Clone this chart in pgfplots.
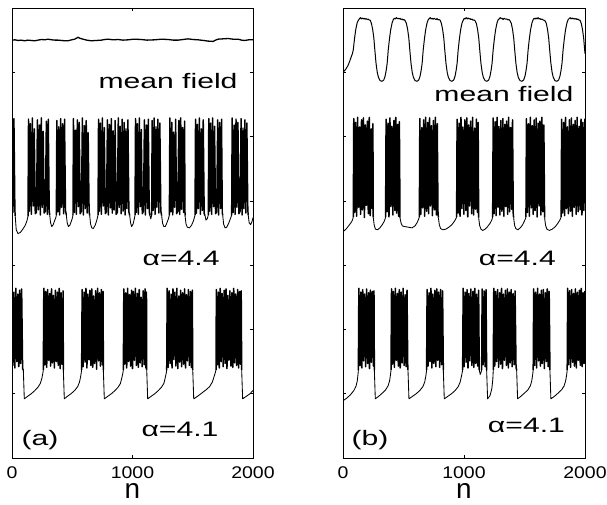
\documentclass[border=0pt]{standalone}
\usepackage{fontspec}
\setmainfont{Liberation Sans}
\usepackage{graphicx}
\usepackage{pgfplots}
\pgfplotsset{compat=1.18}
\tikzset{lbl/.style={anchor=base, inner sep=0pt, font=\fontsize{21}{21}\selectfont},
 sp/.style={black, line width=0.85bp, line join=round, mark=none},
 bu/.style={sp, line width=1.5bp}}
\pgfplotsset{myax/.style={scale only axis, height=450bp, xmin=0, xmax=2000, ymin=0, ymax=7, unbounded coords=jump,
 xtick={0,1000,2000}, xticklabels={\scalebox{1.15}[1]{0},\scalebox{1.15}[1]{1000},\scalebox{1.15}[1]{2000}},
 ytick={1,2,3,4,5,6}, yticklabels={}, tick align=inside, major tick length=3bp, tick pos=both, xticklabel pos=lower,
 xticklabel style={font=\fontsize{17}{17}\selectfont, inner sep=0pt, anchor=north, yshift=-8bp},
 axis line style={line width=0.8bp}, every tick/.style={black, line width=0.6bp},
 xlabel={n}, xlabel style={font=\fontsize{28}{28}\selectfont, inner sep=0pt, at={(axis description cs:0.5,0)}, anchor=north, yshift=-25bp}}}
\begin{document}
\begin{tikzpicture}
\path[use as bounding box] (0bp,0bp) rectangle (607bp,505bp);
% ---------------- panel (a)
\begin{axis}[myax, at={(12bp,47bp)}, anchor=south west, width=241bp]
\addplot[sp, line width=1.3bp] coordinates {(0,6.50)(25,6.505)(50,6.495)(75,6.50)(105,6.49)(130,6.50)(160,6.495)(188,6.49)(215,6.50)(244,6.51)(270,6.505)(299,6.515)(330,6.505)(360,6.50)(382,6.50)(410,6.495)(440,6.49)(465,6.49)(495,6.505)(520,6.515)(535,6.53)(548,6.545)(562,6.53)(589,6.515)(620,6.50)(658,6.49)(700,6.495)(741,6.50)(770,6.51)(797,6.515)(840,6.505)(880,6.51)(920,6.50)(963,6.505)(1010,6.515)(1073,6.51)(1120,6.50)(1184,6.505)(1240,6.515)(1295,6.51)(1340,6.50)(1378,6.50)(1420,6.51)(1461,6.52)(1500,6.51)(1544,6.505)(1590,6.495)(1627,6.485)(1669,6.48)(1690,6.50)(1710,6.515)(1750,6.52)(1793,6.525)(1835,6.515)(1876,6.515)(1905,6.50)(1931,6.495)(1965,6.505)(2000,6.505)};
% alpha=4.4 quiet parts
\addplot[sp] coordinates {(27,3.76)(35,3.55)(50,3.49)(70,3.51)(90,3.56)(110,3.62)(124,3.69)(133,3.76)(133,nan)
(313,3.78)(320,3.66)(330,3.60)(342,3.63)(355,3.70)(364,3.74)(368,3.78)(368,nan)
(451,3.78)(458,3.66)(468,3.60)(480,3.62)(494,3.69)(502,3.74)(506,3.78)(506,nan)
(645,3.77)(652,3.64)(662,3.58)(675,3.57)(690,3.62)(704,3.70)(714,3.78)(714,nan)
(977,3.77)(984,3.66)(993,3.60)(1005,3.64)(1015,3.72)(1021,3.78)(1021,nan)
(1145,3.77)(1152,3.72)(1159,3.78)(1159,nan)
(1242,3.77)(1250,3.65)(1260,3.60)(1272,3.60)(1286,3.66)(1298,3.72)(1306,3.78)(1306,nan)
(1436,3.77)(1444,3.64)(1455,3.59)(1472,3.58)(1490,3.62)(1506,3.69)(1519,3.78)(1519,nan)
(1602,3.77)(1610,3.70)(1620,3.72)(1629,3.78)(1629,nan)
(1749,3.77)(1756,3.64)(1768,3.58)(1782,3.59)(1798,3.65)(1812,3.72)(1823,3.78)(1823,nan)
(1961,3.77)(1968,3.66)(1980,3.63)(1992,3.68)(2000,3.74)};
% alpha=4.4 bursts
\addplot[bu, line width=1.45bp] coordinates {(0,5.22)(8,3.82)(16,5.28)(24,3.85)(27,3.76)(27,nan)
(133,3.76)(137,5.27)(145,3.84)(153,5.20)(161,3.79)(169,5.29)(177,3.92)(185,5.12)(193,3.80)(203,3.82)(211,5.26)(219,3.86)(227,5.18)(235,3.78)(243,5.29)(251,3.90)(259,5.08)(267,3.81)(277,3.84)(285,5.24)(293,3.79)(301,5.27)(309,3.85)(313,3.78)(313,nan)
(368,3.78)(372,5.25)(380,3.83)(388,5.15)(396,3.78)(404,5.28)(412,3.90)(420,5.20)(428,3.80)(436,5.27)(444,3.85)(451,3.78)(451,nan)
(506,3.78)(510,5.28)(518,3.82)(526,5.10)(534,3.79)(542,5.26)(550,3.91)(558,5.22)(566,3.80)(576,3.84)(584,5.29)(592,3.78)(600,5.17)(608,3.88)(616,5.25)(624,3.81)(632,5.06)(640,3.83)(645,3.77)(645,nan)
(714,3.78)(718,5.27)(726,3.84)(734,5.21)(742,3.79)(750,5.29)(758,3.92)(766,5.14)(774,3.80)(784,3.83)(792,5.26)(800,3.78)(808,5.19)(816,3.89)(824,5.28)(832,3.81)(840,5.09)(848,3.86)(856,5.25)(864,3.79)(874,3.82)(882,5.29)(890,3.90)(898,5.16)(906,3.80)(914,5.27)(922,3.84)(930,5.22)(938,3.78)(946,5.12)(954,3.88)(962,5.26)(970,3.83)(977,3.77)(977,nan)
(1021,3.78)(1025,5.28)(1033,3.82)(1041,5.20)(1049,3.79)(1057,5.29)(1065,3.91)(1073,5.11)(1081,3.80)(1091,3.84)(1099,5.26)(1107,3.78)(1115,5.18)(1123,3.88)(1131,5.27)(1139,3.83)(1145,3.77)(1145,nan)
(1159,3.78)(1163,5.25)(1171,3.85)(1179,5.29)(1187,3.79)(1195,5.15)(1203,3.90)(1211,5.27)(1219,3.81)(1227,5.21)(1235,3.84)(1242,3.77)(1242,nan)
(1306,3.78)(1310,5.29)(1318,3.83)(1326,5.22)(1334,3.78)(1342,5.07)(1350,3.90)(1358,5.27)(1366,3.80)(1376,3.84)(1384,5.25)(1392,3.79)(1400,5.29)(1408,3.87)(1416,5.14)(1424,3.82)(1432,5.24)(1436,3.77)(1436,nan)
(1519,3.78)(1523,5.27)(1531,3.81)(1539,5.19)(1547,3.88)(1555,5.29)(1563,3.79)(1571,5.12)(1579,3.85)(1587,5.26)(1595,3.80)(1602,3.77)(1602,nan)
(1629,3.78)(1633,5.28)(1641,3.84)(1649,5.21)(1657,3.79)(1665,5.29)(1673,3.91)(1681,5.16)(1689,3.80)(1699,3.83)(1707,5.26)(1715,3.78)(1723,5.22)(1731,3.88)(1739,5.27)(1745,3.82)(1749,3.77)(1749,nan)
(1823,3.78)(1827,5.29)(1835,3.82)(1843,5.18)(1851,3.79)(1859,5.27)(1867,3.90)(1875,5.22)(1883,3.80)(1893,3.84)(1901,5.28)(1909,3.78)(1917,5.13)(1925,3.88)(1933,5.26)(1941,3.81)(1949,5.21)(1957,3.85)(1961,3.77)};
% alpha=4.1 quiet parts
\addplot[sp] coordinates {(94,1.37)(102,0.92)(130,0.96)(160,1.00)(190,1.05)(215,1.10)(235,1.16)(248,1.24)(256,1.32)(260,1.37)(260,nan)
(426,1.37)(434,0.92)(460,0.96)(490,1.00)(520,1.05)(545,1.11)(560,1.18)(570,1.27)(578,1.37)(578,nan)
(758,1.37)(766,0.92)(795,0.96)(825,1.00)(855,1.05)(880,1.10)(900,1.16)(912,1.25)(920,1.32)(924,1.37)(924,nan)
(1118,1.37)(1126,0.92)(1155,0.96)(1185,1.00)(1215,1.05)(1240,1.10)(1260,1.16)(1272,1.25)(1280,1.32)(1284,1.37)(1284,nan)
(1500,1.37)(1508,0.92)(1540,0.96)(1575,1.01)(1610,1.06)(1640,1.11)(1662,1.18)(1676,1.26)(1686,1.32)(1693,1.37)(1693,nan)
(1906,1.37)(1914,0.92)(1945,0.96)(1975,1.00)(2000,1.05)};
% alpha=4.1 bursts
\addplot[bu] coordinates {(0,2.60)(8,1.44)(16,2.58)(24,1.40)(32,2.64)(40,1.50)(48,2.55)(56,1.42)(64,2.61)(72,1.47)(80,2.63)(88,1.39)(94,1.37)(94,nan)
(260,1.37)(264,2.64)(272,1.45)(280,2.59)(288,1.41)(296,2.62)(304,1.52)(312,2.56)(320,1.43)(328,2.63)(336,1.48)(344,2.53)(352,1.40)(360,2.61)(368,1.50)(376,2.58)(384,1.44)(392,2.64)(400,1.39)(408,2.57)(416,1.46)(424,2.60)(426,1.37)(426,nan)
(578,1.37)(582,2.62)(590,1.42)(598,2.58)(606,1.49)(614,2.64)(622,1.40)(630,2.55)(638,1.53)(646,2.61)(654,1.44)(662,2.63)(670,1.41)(678,2.52)(686,1.47)(694,2.60)(702,1.38)(710,2.64)(718,1.51)(726,2.57)(734,1.43)(742,2.62)(750,1.45)(756,2.59)(758,1.37)(758,nan)
(924,1.37)(928,2.63)(936,1.46)(944,2.57)(952,1.40)(960,2.64)(968,1.50)(976,2.54)(984,1.43)(992,2.61)(1000,1.39)(1008,2.59)(1016,1.52)(1024,2.64)(1032,1.44)(1040,2.56)(1048,1.41)(1056,2.62)(1064,1.48)(1072,2.50)(1080,1.42)(1088,2.60)(1096,1.45)(1104,2.63)(1112,1.40)(1116,2.58)(1118,1.37)(1118,nan)
(1284,1.37)(1288,2.64)(1296,1.41)(1304,2.60)(1312,1.47)(1320,2.55)(1328,1.40)(1336,2.63)(1344,1.53)(1352,2.58)(1360,1.43)(1368,2.64)(1376,1.39)(1384,2.52)(1392,1.49)(1400,2.61)(1408,1.42)(1416,2.57)(1424,1.46)(1432,2.63)(1440,1.40)(1448,2.54)(1456,1.51)(1464,2.62)(1472,1.44)(1480,2.59)(1488,1.41)(1496,2.61)(1500,1.37)(1500,nan)
(1693,1.37)(1696,2.62)(1704,1.45)(1712,2.58)(1720,1.40)(1728,2.64)(1736,1.50)(1744,2.56)(1752,1.42)(1760,2.61)(1768,1.47)(1776,2.63)(1784,1.39)(1792,2.53)(1800,1.52)(1808,2.60)(1816,1.43)(1824,2.57)(1832,1.41)(1840,2.64)(1848,1.48)(1856,2.55)(1864,1.44)(1872,2.62)(1880,1.40)(1888,2.59)(1896,1.46)(1902,2.60)(1906,1.37)};
\node[lbl] at (axis cs:1295,5.75) {\scalebox{1.44}[1]{mean field}};
\node[lbl] at (axis cs:1403,3.00) {\scalebox{1.44}[1]{α=4.4}};
\node[lbl] at (axis cs:1394,0.33) {\scalebox{1.44}[1]{α=4.1}};
\node[lbl] at (axis cs:232,0.20) {\scalebox{1.44}[1]{(a)}};
\end{axis}
% ---------------- panel (b)
\begin{axis}[myax, at={(343bp,47bp)}, anchor=south west, width=242bp]
\addplot[sp, line width=1.0bp] coordinates {(0,6.00)(20,6.04)(40,6.10)(55,6.17)(68,6.24)(78,6.29)
(85,6.35)(95,6.52)(105,6.66)(117,6.77)(127,6.81)(135,6.83)(143,6.85)(151,6.83)(159,6.845)(167,6.83)(175,6.84)(183,6.825)(191,6.835)(199,6.82)(207,6.83)(215,6.815)(225,6.81)(235,6.76)(245,6.67)(255,6.53)(263,6.35)(273,6.14)(283,6.00)(293,5.92)(307,5.87)(323,5.86)(337,5.88)(348,5.94)(357,6.03)(365,6.14)
(374,6.35)(384,6.52)(394,6.66)(406,6.77)(416,6.82)(424,6.84)(432,6.83)(440,6.85)(448,6.835)(456,6.84)(464,6.83)(472,6.84)(480,6.82)(488,6.83)(496,6.815)(504,6.82)(514,6.80)(524,6.76)(534,6.67)(544,6.53)(552,6.35)(562,6.14)(572,6.00)(582,5.92)(596,5.87)(612,5.86)(626,5.88)(637,5.94)(646,6.03)(654,6.14)
(663,6.35)(673,6.52)(683,6.66)(695,6.77)(705,6.82)(713,6.835)(721,6.85)(729,6.83)(737,6.84)(745,6.825)(753,6.84)(761,6.83)(769,6.82)(777,6.835)(785,6.815)(793,6.82)(803,6.81)(813,6.76)(823,6.67)(833,6.53)(841,6.35)(851,6.14)(861,6.00)(871,5.92)(885,5.87)(901,5.86)(915,5.88)(926,5.94)(935,6.03)(943,6.14)
(952,6.35)(962,6.52)(972,6.66)(984,6.77)(994,6.81)(1002,6.84)(1010,6.83)(1018,6.85)(1026,6.83)(1034,6.845)(1042,6.83)(1050,6.835)(1058,6.82)(1066,6.83)(1074,6.81)(1082,6.815)(1092,6.80)(1102,6.76)(1112,6.67)(1122,6.53)(1130,6.35)(1140,6.14)(1150,6.00)(1160,5.92)(1174,5.87)(1190,5.86)(1204,5.88)(1215,5.94)(1224,6.03)(1232,6.14)
(1241,6.35)(1251,6.52)(1261,6.66)(1273,6.77)(1283,6.82)(1291,6.83)(1299,6.85)(1307,6.835)(1315,6.84)(1323,6.82)(1331,6.84)(1339,6.83)(1347,6.825)(1355,6.83)(1363,6.815)(1371,6.82)(1381,6.80)(1391,6.76)(1401,6.67)(1411,6.53)(1419,6.35)(1429,6.14)(1439,6.00)(1449,5.92)(1463,5.87)(1479,5.86)(1493,5.88)(1504,5.94)(1513,6.03)(1521,6.14)
(1530,6.35)(1540,6.52)(1550,6.66)(1562,6.77)(1572,6.82)(1580,6.84)(1588,6.83)(1596,6.845)(1604,6.83)(1612,6.85)(1620,6.83)(1628,6.835)(1636,6.82)(1644,6.83)(1652,6.815)(1660,6.81)(1670,6.80)(1680,6.76)(1690,6.67)(1700,6.53)(1708,6.35)(1718,6.14)(1728,6.00)(1738,5.92)(1752,5.87)(1768,5.86)(1782,5.88)(1793,5.94)(1802,6.03)(1810,6.14)
(1819,6.35)(1829,6.52)(1839,6.66)(1851,6.77)(1861,6.82)(1869,6.835)(1877,6.85)(1885,6.83)(1893,6.845)(1901,6.83)(1909,6.84)(1917,6.825)(1925,6.835)(1933,6.82)(1941,6.83)(1949,6.815)(1959,6.81)(1969,6.76)(1979,6.67)(1989,6.53)(1997,6.35)(2000,6.29)};
% alpha=4.4 quiet parts
\addplot[sp] coordinates {(0,3.52)(25,3.56)(50,3.62)(70,3.67)(80,3.71)(85,3.75)(85,nan)
(250,3.74)(258,3.62)(268,3.56)(285,3.55)(305,3.58)(325,3.63)(340,3.68)(348,3.72)(352,3.75)(352,nan)
(471,3.74)(479,3.66)(490,3.61)(510,3.60)(540,3.59)(570,3.58)(595,3.61)(612,3.66)(624,3.71)(631,3.75)(631,nan)
(788,3.74)(796,3.63)(806,3.57)(825,3.55)(850,3.56)(875,3.59)(900,3.63)(920,3.68)(932,3.72)(939,3.75)(939,nan)
(1121,3.74)(1129,3.62)(1140,3.56)(1155,3.54)(1175,3.56)(1195,3.60)(1215,3.65)(1229,3.70)(1237,3.75)(1237,nan)
(1410,3.74)(1418,3.62)(1428,3.57)(1445,3.55)(1465,3.58)(1485,3.63)(1500,3.69)(1508,3.72)(1512,3.75)(1512,nan)
(1666,3.74)(1674,3.62)(1685,3.56)(1705,3.54)(1730,3.56)(1755,3.60)(1775,3.65)(1792,3.70)(1803,3.75)};
% alpha=4.4 bursts
\addplot[bu] coordinates {(85,3.75)(89,5.28)(97,3.82)(105,5.22)(113,3.76)(121,5.30)(129,3.90)(137,5.15)(145,3.79)(153,5.26)(161,3.86)(169,5.29)(177,3.74)(185,5.18)(193,3.93)(201,5.24)(209,3.80)(217,5.30)(225,3.77)(233,5.12)(241,3.88)(247,5.20)(250,3.74)(250,nan)
(352,3.75)(356,5.27)(364,3.83)(372,5.21)(380,3.75)(388,5.29)(396,3.91)(404,5.16)(412,3.78)(420,5.25)(428,3.85)(436,5.30)(444,3.81)(452,5.19)(460,3.76)(466,5.23)(471,3.74)(471,nan)
(631,3.75)(635,5.28)(643,3.79)(651,5.14)(659,3.89)(667,5.26)(675,3.76)(683,5.30)(691,3.84)(699,5.22)(707,3.80)(715,5.29)(723,3.92)(731,5.17)(739,3.77)(747,5.25)(755,3.86)(763,5.30)(771,3.78)(779,5.20)(785,3.83)(788,3.74)(788,nan)
(939,3.75)(943,5.27)(951,3.81)(959,5.21)(967,3.76)(975,5.30)(983,3.88)(991,5.15)(999,3.79)(1007,5.26)(1015,3.85)(1023,5.29)(1031,3.75)(1039,5.18)(1047,3.92)(1055,5.24)(1063,3.80)(1071,5.30)(1079,3.78)(1087,5.13)(1095,3.87)(1103,5.27)(1111,3.82)(1117,5.22)(1121,3.74)(1121,nan)
(1237,3.75)(1241,5.29)(1249,3.80)(1257,5.23)(1265,3.77)(1273,5.30)(1281,3.90)(1289,5.16)(1297,3.78)(1305,5.25)(1313,3.84)(1321,5.28)(1329,3.76)(1337,5.19)(1345,3.91)(1353,5.24)(1361,3.79)(1369,5.30)(1377,3.83)(1385,5.14)(1393,3.87)(1401,5.26)(1407,3.80)(1410,3.74)(1410,nan)
(1512,3.75)(1516,5.28)(1524,3.82)(1532,5.20)(1540,3.76)(1548,5.30)(1556,3.89)(1564,5.17)(1572,3.79)(1580,5.26)(1588,3.85)(1596,5.29)(1604,3.75)(1612,5.21)(1620,3.92)(1628,5.24)(1636,3.78)(1644,5.30)(1652,3.83)(1660,5.18)(1666,3.74)(1666,nan)
(1803,3.75)(1807,5.27)(1815,3.81)(1823,5.22)(1831,3.77)(1839,5.30)(1847,3.88)(1855,5.15)(1863,3.80)(1871,5.26)(1879,3.84)(1887,5.29)(1895,3.76)(1903,5.19)(1911,3.90)(1919,5.25)(1927,3.79)(1935,5.30)(1943,3.83)(1951,5.16)(1959,3.86)(1967,5.27)(1975,3.78)(1983,5.22)(1991,3.85)(2000,5.28)};
% alpha=4.1 quiet parts
\addplot[sp] coordinates {(0,0.89)(30,0.93)(60,0.98)(90,1.05)(108,1.12)(118,1.20)(124,1.30)(127,1.37)(127,nan)
(259,1.37)(267,0.92)(295,0.96)(325,1.01)(352,1.06)(372,1.12)(385,1.20)(392,1.29)(397,1.37)(397,nan)
(537,1.37)(545,0.92)(575,0.96)(605,1.00)(635,1.05)(660,1.11)(675,1.18)(685,1.28)(691,1.37)(691,nan)
(829,1.37)(837,0.92)(867,0.96)(897,1.00)(927,1.05)(952,1.11)(968,1.18)(980,1.28)(989,1.37)(989,nan)
(1126,1.37)(1134,1.30)(1142,1.34)(1146,1.37)(1146,nan)
(1187,1.37)(1195,0.92)(1215,0.97)(1230,1.08)(1238,1.22)(1242,1.37)(1242,nan)
(1435,1.37)(1443,0.92)(1470,0.96)(1500,1.01)(1528,1.06)(1548,1.12)(1560,1.20)(1567,1.29)(1572,1.37)(1572,nan)
(1710,1.37)(1718,0.92)(1748,0.96)(1778,1.01)(1806,1.06)(1827,1.12)(1840,1.20)(1848,1.29)(1853,1.37)};
% alpha=4.1 bursts
\addplot[bu] coordinates {(127,1.37)(131,2.64)(139,1.44)(147,2.58)(155,1.40)(163,2.62)(171,1.51)(179,2.55)(187,1.42)(195,2.63)(203,1.47)(211,2.57)(219,1.39)(227,2.61)(235,1.49)(243,2.59)(251,1.43)(256,2.60)(259,1.37)(259,nan)
(397,1.37)(401,2.63)(409,1.46)(417,2.59)(425,1.41)(433,2.64)(441,1.52)(449,2.56)(457,1.43)(465,2.62)(473,1.40)(481,2.58)(489,1.48)(497,2.64)(505,1.44)(513,2.54)(521,1.42)(529,2.61)(535,1.45)(537,1.37)(537,nan)
(691,1.37)(695,2.62)(703,1.43)(711,2.57)(719,1.50)(727,2.64)(735,1.40)(743,2.55)(751,1.47)(759,2.61)(767,1.42)(775,2.63)(783,1.52)(791,2.58)(799,1.41)(807,2.62)(815,1.45)(823,2.60)(829,1.37)(829,nan)
(989,1.37)(993,2.64)(1001,1.42)(1009,2.58)(1017,1.49)(1025,2.62)(1033,1.40)(1041,2.56)(1049,1.51)(1057,2.63)(1065,1.44)(1073,2.59)(1081,1.41)(1089,2.64)(1097,1.47)(1105,2.55)(1113,1.43)(1121,2.61)(1126,1.37)(1126,nan)
(1146,1.37)(1150,2.63)(1158,1.45)(1166,2.60)(1174,1.42)(1182,2.62)(1187,1.37)(1187,nan)
(1242,1.37)(1246,2.64)(1254,1.43)(1262,2.59)(1270,1.50)(1278,2.62)(1286,1.41)(1294,2.57)(1302,1.46)(1310,2.64)(1318,1.39)(1326,2.55)(1334,1.52)(1342,2.61)(1350,1.44)(1358,2.63)(1366,1.40)(1374,2.58)(1382,1.48)(1390,2.62)(1398,1.42)(1406,2.56)(1414,1.45)(1422,2.60)(1430,1.41)(1435,1.37)(1435,nan)
(1572,1.37)(1576,2.63)(1584,1.44)(1592,2.58)(1600,1.40)(1608,2.64)(1616,1.51)(1624,2.55)(1632,1.43)(1640,2.61)(1648,1.47)(1656,2.62)(1664,1.39)(1672,2.57)(1680,1.50)(1688,2.63)(1696,1.42)(1704,2.59)(1710,1.37)(1710,nan)
(1853,1.37)(1857,2.64)(1865,1.45)(1873,2.60)(1881,1.41)(1889,2.62)(1897,1.49)(1905,2.56)(1913,1.43)(1921,2.63)(1929,1.40)(1937,2.58)(1945,1.52)(1953,2.61)(1961,1.44)(1969,2.64)(1977,1.42)(1985,2.57)(1993,1.47)(2000,2.60)};
\node[lbl] at (axis cs:1330,5.54) {\scalebox{1.44}[1]{mean field}};
\node[lbl] at (axis cs:1441,3.00) {\scalebox{1.44}[1]{α=4.4}};
\node[lbl] at (axis cs:1516,0.39) {\scalebox{1.44}[1]{α=4.1}};
\node[lbl] at (axis cs:223,0.20) {\scalebox{1.44}[1]{(b)}};
\end{axis}
\end{tikzpicture}
\end{document}
